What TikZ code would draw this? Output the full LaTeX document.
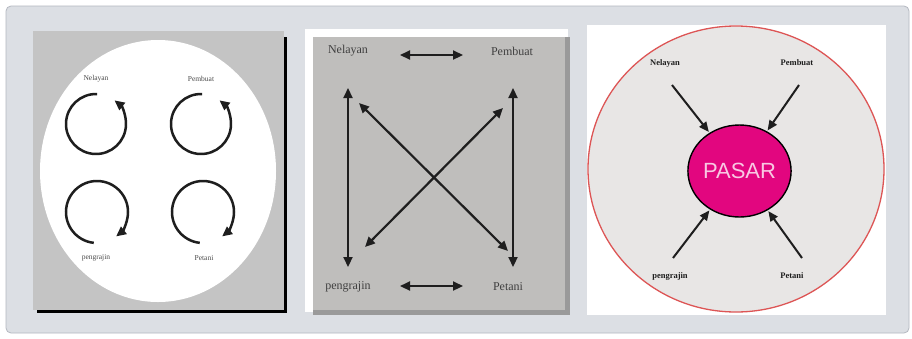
\documentclass[tikz,border=0pt]{standalone}
\usepackage{fontspec}
\setmainfont{Liberation Serif}
\newfontfamily\pasarfont{Liberation Sans}
\usetikzlibrary{arrows.meta,shapes.geometric}
\definecolor{framebg}{HTML}{DCDFE4}
\definecolor{frameline}{HTML}{B4B8C0}
\definecolor{panelA}{HTML}{C4C4C4}
\definecolor{panelB}{HTML}{BFBEBC}
\definecolor{panelBshadow}{HTML}{9A9A9A}
\definecolor{circC}{HTML}{E8E6E5}
\definecolor{redline}{HTML}{DD5555}
\definecolor{magenta}{HTML}{E2067F}
\definecolor{pinktext}{HTML}{F8C8E2}
\definecolor{ink}{HTML}{1E1E1E}
\tikzset{
  tinylabel/.style={font=\fontsize{7.5}{9}\selectfont, text=ink!80, inner sep=0pt},
  biglabel/.style={font=\fontsize{12}{14}\selectfont, text=ink!85, inner sep=0pt},
  midlabel/.style={font=\bfseries\fontsize{8.5}{10}\selectfont, text=ink, inner sep=0pt},
  looparrow/.style={line width=2.5pt, ink, -{Triangle[length=10pt,width=9pt]}},
  dblarrow/.style={line width=2.2pt, ink, {Triangle[length=10pt,width=9pt]}-{Triangle[length=10pt,width=9pt]}},
  inarrow/.style={line width=2pt, ink, -{Triangle[length=10pt,width=8.5pt]}, shorten >=1pt},
}
\begin{document}
\begin{tikzpicture}[x=1pt,y=-1pt]
\useasboundingbox (0,0) rectangle (912,338);
\fill[white] (0,0) rectangle (912,338);
% outer frame
\draw[frameline, fill=framebg, line width=0.8pt, rounded corners=5pt] (6,6) rectangle (909,333);

% ---------- panel 1 ----------
\fill[black] (37,37) rectangle (287,313);
\fill[panelA] (33,31) rectangle (284,310);
\fill[white] (158,171) ellipse[x radius=118, y radius=131];
\coordinate (c1) at (96,124);
\coordinate (c2) at (201,124);
\coordinate (c3) at (97,212);
\coordinate (c4) at (203,212);
\node[tinylabel] (n1) at (96,79) {Nelayan};
\node[tinylabel] (p1) at (201,79) {Pembuat};
\node[tinylabel] (g1) at (96,258) {pengrajin};
\node[tinylabel] (t1) at (204,258) {Petani};
\draw[looparrow] ([shift={(272:30)}]c1) arc[start angle=272, end angle=-52, radius=30];
\draw[looparrow] ([shift={(272:30)}]c2) arc[start angle=272, end angle=-52, radius=30];
\draw[looparrow] ([shift={(96:31)}]c3) arc[start angle=96, end angle=412, radius=31];
\draw[looparrow] ([shift={(96:31)}]c4) arc[start angle=96, end angle=412, radius=31];

% ---------- panel 2 ----------
\fill[white] (305,29) rectangle (568,312);
\fill[panelBshadow] (313,37) rectangle (570,315);
\fill[panelB] (313,37) rectangle (565,310);
\node[biglabel] (n2) at (348,51) {Nelayan};
\node[biglabel] (p2) at (512,51) {Pembuat};
\node[biglabel] (g2) at (348,287) {pengrajin};
\node[biglabel] (t2) at (508,287) {Petani};
\coordinate (ta) at (400,55);
\coordinate (tb) at (463,55);
\coordinate (ba) at (400,286);
\coordinate (bb) at (463,286);
\coordinate (la) at (348,88);
\coordinate (lb) at (348,267);
\coordinate (ra) at (513,88);
\coordinate (rb) at (513,267);
\coordinate (d1a) at (359,103);
\coordinate (d1b) at (508,251);
\coordinate (d2a) at (503,108);
\coordinate (d2b) at (365,247);
\draw[dblarrow] (ta) -- (tb);
\draw[dblarrow] (ba) -- (bb);
\draw[dblarrow] (la) -- (lb);
\draw[dblarrow] (ra) -- (rb);
\draw[dblarrow] (d1a) -- (d1b);
\draw[dblarrow] (d2a) -- (d2b);

% ---------- panel 3 ----------
\fill[white] (587,25) rectangle (886,315);
\draw[redline, fill=circC, line width=1.3pt] (736,169) ellipse[x radius=148, y radius=143];
\node[ellipse, draw=black, line width=1.4pt, fill=magenta, minimum width=103pt, minimum height=92pt, inner sep=0pt,
      font=\pasarfont\fontsize{22}{24}\selectfont, text=pinktext] (pasar) at (739.5,171) {PASAR};
\node[midlabel] (n3) at (665,63) {Nelayan};
\node[midlabel] (p3) at (797,63) {Pembuat};
\node[midlabel] (g3) at (670,276) {pengrajin};
\node[midlabel] (t3) at (792,276) {Petani};
\coordinate (s1) at (672,85);
\coordinate (s2) at (799,85);
\coordinate (s3) at (673,258);
\coordinate (s4) at (802,258);
\draw[inarrow] (s1) -- (pasar);
\draw[inarrow] (s2) -- (pasar);
\draw[inarrow] (s3) -- (pasar);
\draw[inarrow] (s4) -- (pasar);
\end{tikzpicture}
\end{document}
